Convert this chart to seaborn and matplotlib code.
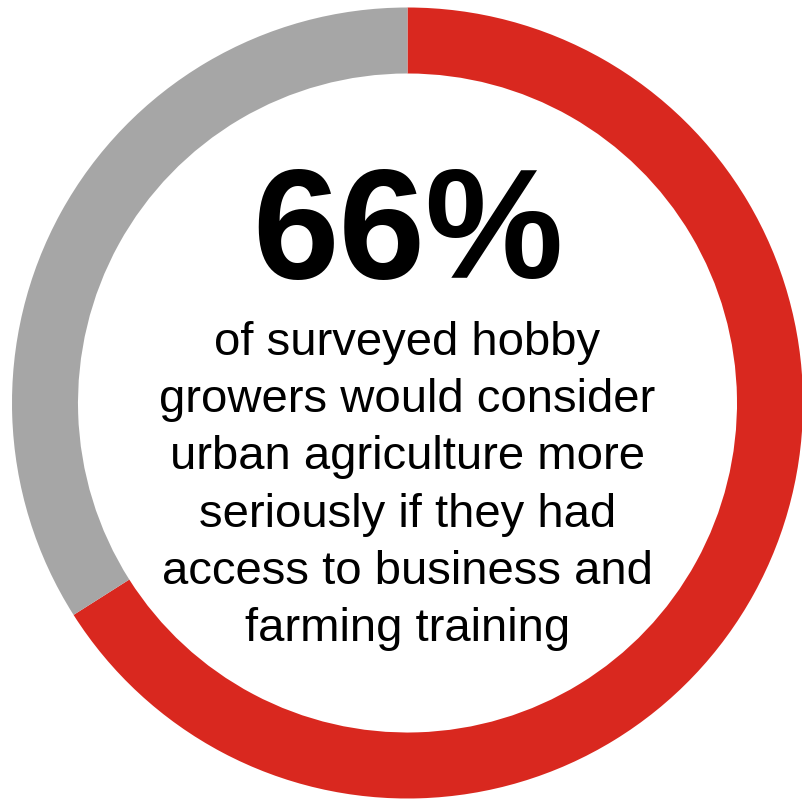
import matplotlib
matplotlib.use("Agg")
import matplotlib.pyplot as plt
import seaborn as sns

sns.set_theme(style="white")
plt.rcParams['font.family'] = ['Liberation Sans', 'DejaVu Sans']

labels = ["Would consider", "Other"]
values = [66, 34]
colors = ["#D9281F", "#A6A6A6"]
headline = "66%"
body_lines = [
    "of surveyed hobby",
    "growers would consider",
    "urban agriculture more",
    "seriously if they had",
    "access to business and",
    "farming training",
]

W, H = 803, 799
fig = plt.figure(figsize=(W / 100, H / 100), dpi=100)
ax = fig.add_axes([0, 0, 1, 1])
ax.set_xlim(0, W)
ax.set_ylim(0, H)
ax.set_aspect('equal')
ax.axis('off')

cx, cy_px, R = 407.5, 403, 395.5
ax.pie(values, colors=colors, startangle=90, counterclock=False,
       center=(cx, H - cy_px), radius=R,
       wedgeprops=dict(width=66, edgecolor='none'))
ax.set_xlim(0, W)
ax.set_ylim(0, H)

ax.text(cx, H - 278, headline, ha='center', va='baseline',
        fontsize=112, fontweight='bold', color='black')

base0 = 355
step = 57.2
for i, line in enumerate(body_lines):
    ax.text(cx, H - (base0 + i * step), line, ha='center', va='baseline',
            fontsize=34, color='black')

fig.savefig("out.png", dpi=100)
